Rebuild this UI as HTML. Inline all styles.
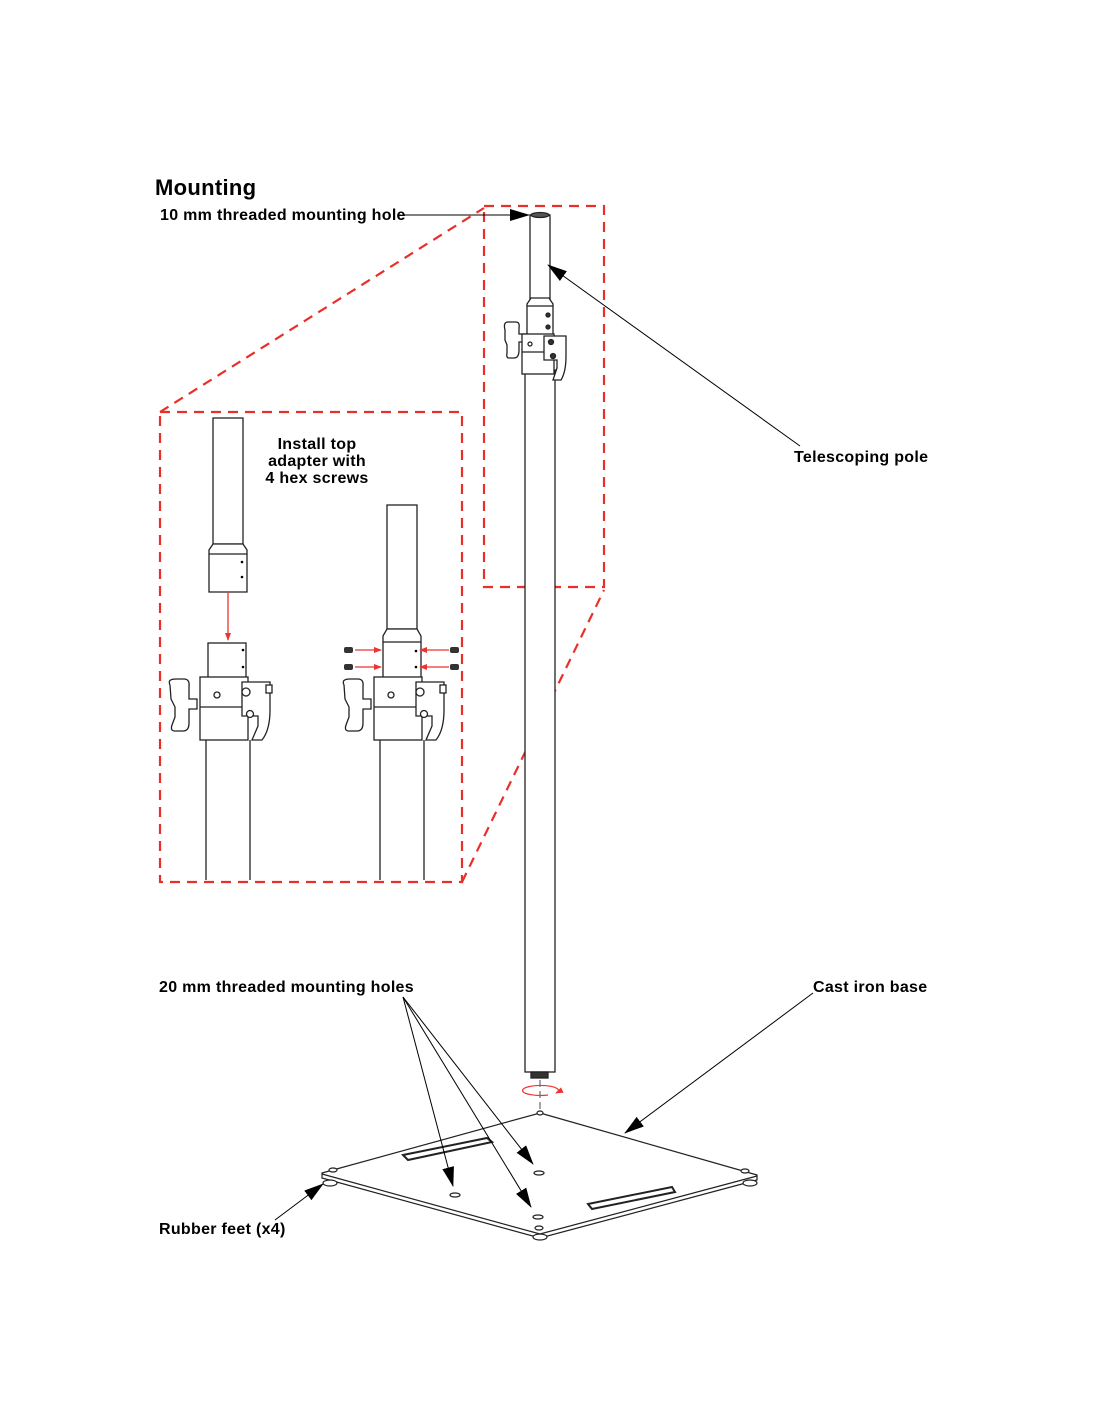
<!DOCTYPE html>
<html><head><meta charset="utf-8"><style>
body{margin:0;background:#fff}
svg{display:block}
text{font-family:"Liberation Sans",Arial,sans-serif;font-weight:bold;fill:#000;letter-spacing:0.3px}
</style></head><body>
<svg width="1100" height="1422" viewBox="0 0 1100 1422" xmlns="http://www.w3.org/2000/svg">
<defs>
<marker id="ah" markerWidth="12" markerHeight="8" refX="11" refY="4" orient="auto" markerUnits="userSpaceOnUse"><path d="M0,0 L12,4 L0,8 z" fill="#000"/></marker>
<marker id="ahb" markerWidth="20" markerHeight="12" refX="19" refY="6" orient="auto" markerUnits="userSpaceOnUse"><path d="M0,0 L20,6 L0,12 z" fill="#000"/></marker>
<marker id="ar" markerWidth="8" markerHeight="6" refX="7" refY="3" orient="auto" markerUnits="userSpaceOnUse"><path d="M0,0 L8,3 L0,6 z" fill="#e33"/></marker>
<g id="clamp" fill="#fff" stroke="#222" stroke-width="1.3">
<path d="M0,8 q-3,-6 6,-6 h8 q6,0 5,8 v12 h8 v10 h-8 v14 q0,8 -6,8 h-8 q-5,0 -3,-6 l3,-8 v-10 l-4,-8 z"/>
<rect x="30" y="0" width="48" height="63" />
<line x1="30" y1="30" x2="78" y2="30"/>
<circle cx="47" cy="18" r="3"/>
<path d="M72,5 h28 v28 q0,20 -8,30 h-10 l6,-14 v-10 h-16 z"/>
<circle cx="76" cy="15" r="4"/><circle cx="80" cy="37" r="3.5"/>
<rect x="96" y="8" width="6" height="8"/>
</g>
</defs>

<g fill="none" stroke="#e8302a" stroke-width="2.2" stroke-dasharray="10,7">
<rect x="484" y="206" width="120" height="381"/>
<rect x="160" y="412" width="302" height="470"/>
<line x1="160" y1="412" x2="484" y2="208"/>
<line x1="462" y1="882" x2="604" y2="590"/>
</g>

<g fill="#fff" stroke="#222" stroke-width="1.3">
<rect x="525" y="370" width="30" height="702"/>
<rect x="531" y="1072" width="17" height="6" fill="#333"/>
<rect x="530" y="215" width="20" height="85"/>
<ellipse cx="540" cy="215" rx="9" ry="2.5" fill="#555"/>
<path d="M527,304 l4,-6 h18 l4,6 v32 h-26 z"/>
<line x1="527" y1="306" x2="553" y2="306"/>
<circle cx="548" cy="315" r="2" fill="#333"/><circle cx="548" cy="327" r="2" fill="#333"/>
<path d="M508,322 h8 q4,0 3,6 v6 h7 v8 h-7 v8 q0,8 -5,8 h-5 q-3,0 -2,-5 v-8 l-2,-5 v-10 q-2,-8 3,-8 z"/>
<rect x="522" y="334" width="32" height="40"/>
<line x1="522" y1="352" x2="554" y2="352"/>
<circle cx="530" cy="344" r="2"/>
<path d="M544,336 h22 v20 q0,16 -5,24 h-8 l4,-12 v-8 h-13 z"/>
<circle cx="551" cy="342" r="2.5" fill="#333"/><circle cx="553" cy="356" r="2.5" fill="#333"/>
</g>
<line x1="540" y1="1080" x2="540" y2="1170" stroke="#888" stroke-width="1.5" stroke-dasharray="7,4"/>
<path d="M548,1095 a18,5 0 1 1 8,-2" fill="none" stroke="#e33" stroke-width="1.2" marker-end="url(#ar)"/>

<g fill="#fff" stroke="#222" stroke-width="1.2">
<path d="M540,1113 L757,1175 L757,1180 L540,1238 L322,1178 L322,1173 Z"/>
<path d="M322,1174 L540,1234 L757,1176" fill="none"/>
<path d="M403,1155 L487,1138 L492,1142 L408,1160 Z" stroke-width="2"/>
<path d="M588,1204 L672,1187 L675,1192 L592,1209 Z" stroke-width="2"/>
<ellipse cx="455" cy="1195" rx="5" ry="2"/>
<ellipse cx="539" cy="1173" rx="5" ry="2"/>
<ellipse cx="538" cy="1217" rx="5" ry="2"/>
<ellipse cx="540" cy="1113" rx="3" ry="2"/>
<ellipse cx="333" cy="1170" rx="4" ry="2"/>
<ellipse cx="745" cy="1171" rx="4" ry="2"/>
<ellipse cx="539" cy="1228" rx="4" ry="2"/>
<ellipse cx="330" cy="1183" rx="7" ry="3"/>
<ellipse cx="750" cy="1183" rx="7" ry="3"/>
<ellipse cx="540" cy="1237" rx="7" ry="3"/>
</g>

<g fill="#fff" stroke="#222" stroke-width="1.3">
<rect x="213" y="418" width="30" height="126"/>
<path d="M209,550 l4,-6 h30 l4,6 v42 h-38 z"/>
<line x1="209" y1="554" x2="247" y2="554"/>
<rect x="208" y="643" width="38" height="36"/>
<line x1="206" y1="740" x2="206" y2="880"/><line x1="250" y1="740" x2="250" y2="880"/>
</g>
<circle cx="242" cy="562" r="1.3"/><circle cx="242" cy="577" r="1.3"/>
<circle cx="243" cy="650" r="1.3"/><circle cx="243" cy="667" r="1.3"/>
<line x1="228" y1="592" x2="228" y2="640" stroke="#e33" stroke-width="1.3" marker-end="url(#ar)"/>
<use href="#clamp" x="170" y="677"/>

<g fill="#fff" stroke="#222" stroke-width="1.3">
<rect x="387" y="505" width="30" height="124"/>
<path d="M383,636 l4,-7 h30 l4,7 v44 h-38 z"/>
<line x1="383" y1="642" x2="421" y2="642"/>
<line x1="380" y1="740" x2="380" y2="880"/><line x1="424" y1="740" x2="424" y2="880"/>
</g>
<circle cx="416" cy="651" r="1.3"/><circle cx="416" cy="667" r="1.3"/>
<use href="#clamp" x="344" y="677"/>
<g fill="#333"><rect x="344" y="647" width="9" height="6" rx="2"/><rect x="344" y="664" width="9" height="6" rx="2"/>
<rect x="450" y="647" width="9" height="6" rx="2"/><rect x="450" y="664" width="9" height="6" rx="2"/></g>
<g stroke="#e33" stroke-width="1.3">
<line x1="355" y1="650" x2="381" y2="650" marker-end="url(#ar)"/>
<line x1="355" y1="667" x2="381" y2="667" marker-end="url(#ar)"/>
<line x1="449" y1="650" x2="420" y2="650" marker-end="url(#ar)"/>
<line x1="449" y1="667" x2="420" y2="667" marker-end="url(#ar)"/>
</g>

<g stroke="#000" stroke-width="1" fill="none">
<line x1="404" y1="215" x2="529" y2="215" marker-end="url(#ahb)"/>
<line x1="800" y1="446" x2="548" y2="265" marker-end="url(#ahb)"/>
<line x1="403" y1="997" x2="453" y2="1186" marker-end="url(#ahb)"/>
<line x1="403" y1="997" x2="531" y2="1207" marker-end="url(#ahb)"/>
<line x1="403" y1="997" x2="533" y2="1164" marker-end="url(#ahb)"/>
<line x1="813" y1="993" x2="625" y2="1133" marker-end="url(#ahb)"/>
<line x1="275" y1="1220" x2="323" y2="1184" marker-end="url(#ahb)"/>
</g>

<text x="155" y="195" font-size="22">Mounting</text>
<text x="160" y="220" font-size="16">10 mm threaded mounting hole</text>
<text x="794" y="462" font-size="16">Telescoping pole</text>
<g font-size="16" text-anchor="middle">
<text x="317" y="449">Install top</text>
<text x="317" y="466">adapter with</text>
<text x="317" y="483">4 hex screws</text>
</g>
<text x="159" y="992" font-size="16">20 mm threaded mounting holes</text>
<text x="813" y="992" font-size="16">Cast iron base</text>
<text x="159" y="1234" font-size="16">Rubber feet (x4)</text>
</svg>
</body></html>
